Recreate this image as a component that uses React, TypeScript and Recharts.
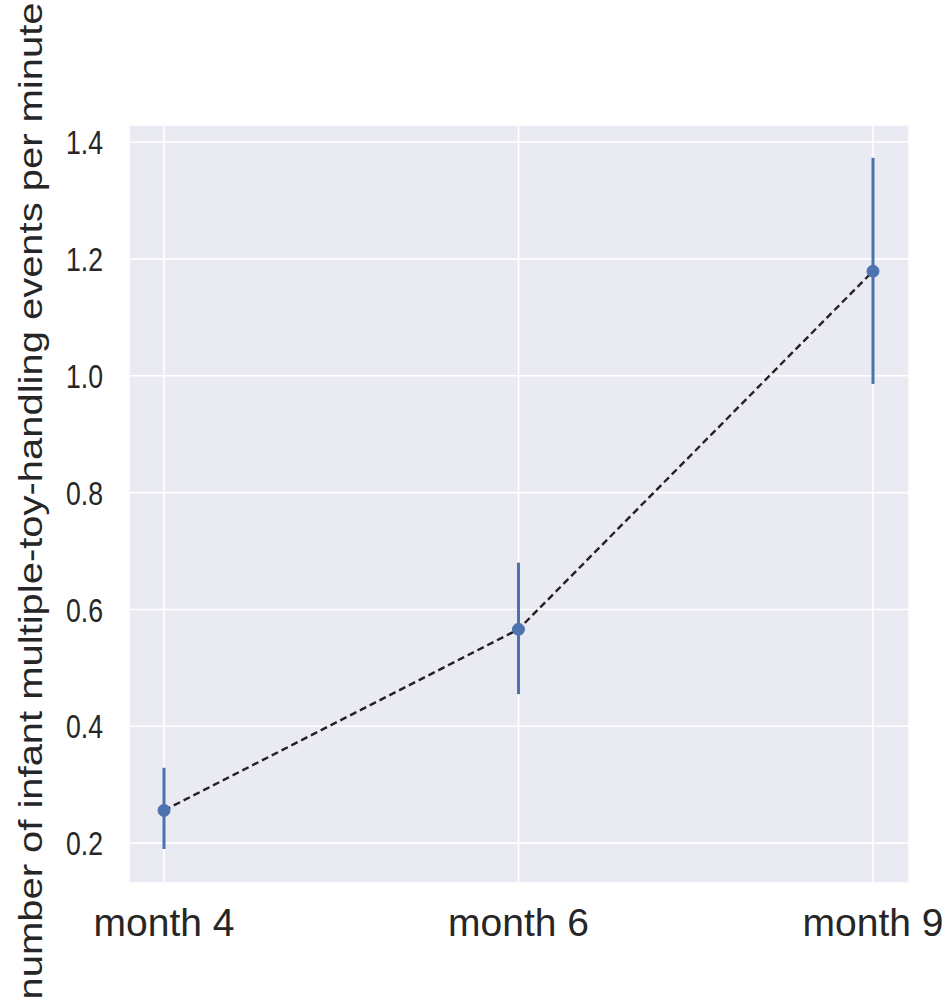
import React from 'react';
import { LineChart, Line, XAxis, YAxis, CartesianGrid, ErrorBar } from 'recharts';

// Visits and mean counts of multiple-toy-handling events per minute
const months = ['month 4', 'month 6', 'month 9'];
const means = [0.256, 0.566, 1.179];
const lowerBounds = [0.19, 0.455, 0.986];
const upperBounds = [0.329, 0.68, 1.373];
const yTicks = [0.2, 0.4, 0.6, 0.8, 1.0, 1.2, 1.4];

const data = months.map((m, i) => ({
  month: m,
  mean: means[i],
  err: [means[i] - lowerBounds[i], upperBounds[i] - means[i]],
}));

const FONT = '"Liberation Sans", Arial, sans-serif';
const BLUE = '#4c72b0';
const INK = '#262626';

const YLabel = (props: any) => {
  const vb = props.viewBox || {};
  const cy = (vb.y ?? 125) + (vb.height ?? 758) / 2;
  return (
    <text
      x={0}
      y={0}
      transform={`translate(42, ${cy - 3}) rotate(-90)`}
      textAnchor="middle"
      fontFamily={FONT}
      fontSize={33}
      fill={INK}
      textLength={997}
      lengthAdjust="spacingAndGlyphs"
    >
      number of infant multiple-toy-handling events per minute
    </text>
  );
};

// Narrow, tall numerals for the value axis
const YTick = (props: any) => {
  const { x, y, payload } = props;
  return (
    <text
      x={x}
      y={y}
      dy="0.355em"
      textAnchor="end"
      fontFamily={FONT}
      fontSize={34}
      fill={INK}
      textLength={37}
      lengthAdjust="spacingAndGlyphs"
    >
      {Number(payload.value).toFixed(1)}
    </text>
  );
};

export default function App() {
  return (
    <div style={{ position: 'absolute', left: 0, top: 0, width: 948, height: 1008, background: '#fff' }}>
      <LineChart
        width={948}
        height={1008}
        data={data}
        margin={{ top: 125, right: 39, bottom: 0, left: 0 }}
      >
        <CartesianGrid fill="#eaeaf2" stroke="#ffffff" strokeWidth={1.6} />
        <XAxis
          dataKey="month"
          height={125}
          padding={{ left: 35, right: 36 }}
          axisLine={false}
          tickLine={false}
          tickSize={0}
          tickMargin={25}
          tick={{ fontFamily: FONT, fontSize: 39, fill: INK }}
          interval={0}
        />
        <YAxis
          width={129}
          domain={[0.1318, 1.4292]}
          ticks={yTicks}
          axisLine={false}
          tickLine={false}
          tickSize={0}
          tickMargin={26}
          tick={<YTick />}
          allowDataOverflow
          label={<YLabel />}
        />
        <Line
          dataKey="mean"
          stroke="none"
          dot={false}
          activeDot={false}
          isAnimationActive={false}
        >
          <ErrorBar dataKey="err" width={0} stroke={BLUE} strokeWidth={3} direction="y" />
        </Line>
        <Line
          dataKey="mean"
          stroke="#222222"
          strokeWidth={2.4}
          strokeDasharray="7 4"
          dot={false}
          activeDot={false}
          isAnimationActive={false}
        />
        <Line
          dataKey="mean"
          stroke="none"
          dot={{ r: 6, fill: BLUE, stroke: BLUE, strokeWidth: 1 }}
          activeDot={false}
          isAnimationActive={false}
        />
      </LineChart>
    </div>
  );
}
